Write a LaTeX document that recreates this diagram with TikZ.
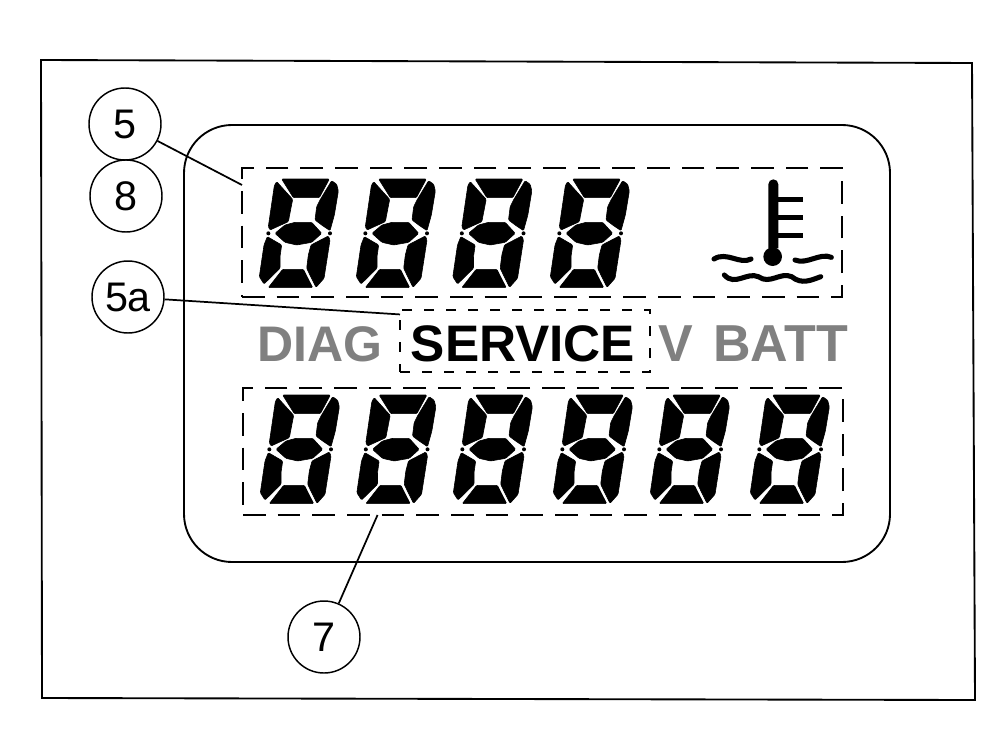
\documentclass[tikz,border=0pt]{standalone}
\usepackage{fontspec}
\setmainfont{Liberation Sans}
\newcommand\lcddigit[2]{%
\begin{scope}[shift={(#1,#2)},x=0.25pt,y=-0.25pt]
\path[lcdseg] (125,42)--(268,42)--(238,98)--(160,98)--cycle;
\path[lcdseg] (275,47)--(290,58)--(295,78)--(283,150)--(270,197)--(245,180)--(225,165)--(230,125)--(240,105)--cycle;
\path[lcdseg] (110,50)--(158,103)--(145,170)--(90,195)--(85,185)--(103,62)--cycle;
\path[lcdseg] (105,205)--(135,180)--(165,172)--(215,172)--(245,205)--(215,232)--(170,240)--(135,232)--cycle;
\path[lcdseg] (82,215)--(125,240)--(120,275)--(120,310)--(72,357)--(58,335)--(72,240)--cycle;
\path[lcdseg] (265,213)--(270,225)--(252,340)--(228,367)--(200,310)--(205,270)--(213,240)--cycle;
\path[lcdseg] (128,313)--(190,313)--(218,368)--(85,368)--cycle;
\fill (85,205) circle (6);
\fill (270,205) circle (6);
\end{scope}}
\tikzset{
  x=0.75pt,y=-0.75pt,
  lcdseg/.style={fill=black,draw=black,line width=0.45pt,rounded corners=0.8pt},
  frameline/.style={draw=black,line width=1.4pt},
  callout/.style={circle,draw=black,line width=1.1pt,fill=white,minimum size=54pt,inner sep=0pt,font=\fontsize{31}{33}\selectfont},
  dashbox/.style={rectangle,draw=black,line width=1.5pt,inner sep=0pt,outer sep=0pt,dash pattern=on 17pt off 9pt},
  servbox/.style={dashbox,dash pattern=on 7.5pt off 9pt},
  leader/.style={draw=black,line width=1.3pt},
  lcdtext/.style={font=\bfseries\fontsize{38.5}{40}\selectfont,inner sep=0pt},
  mutedtext/.style={font=\bfseries\fontsize{37.5}{40}\selectfont,inner sep=0pt,text=black!50},
  vbattext/.style={mutedtext,font=\bfseries\fontsize{39}{40}\selectfont},
  thermo/.style={fill=black},
  wave/.style={draw=black,line width=3.8pt,line cap=round}
}
\begin{document}
\begin{tikzpicture}
\useasboundingbox (0,0) rectangle (1002,753);
\draw[frameline] (41,60) -- (972,63) -- (975,700) -- (42,698) -- cycle;
\draw[frameline,rounded corners=36pt] (184,125) rectangle (890,562);

\node[dashbox,minimum width=450pt,minimum height=96.75pt] (topbox) at (542,232.5) {};
\node[servbox,minimum width=187.5pt,minimum height=46.5pt] (servicebox) at (525,341) {};
\node[dashbox,minimum width=450pt,minimum height=95.25pt] (botbox) at (543,451.5) {};

\lcddigit{240}{165}\lcddigit{337}{165}\lcddigit{433.5}{165}\lcddigit{531}{165}
\lcddigit{241}{381}\lcddigit{337.5}{381}\lcddigit{434}{381}\lcddigit{534}{381}\lcddigit{631}{381}\lcddigit{731}{381}

\begin{scope}[shift={(690,165)},x=0.25pt,y=-0.25pt]
\fill[thermo] (235,58) arc[start angle=180,end angle=360,radius=15] -- (265,250) -- (235,250) -- cycle;
\fill[thermo] (248,275) circle (28);
\fill[thermo] (262,95) rectangle (338,111);
\fill[thermo] (262,149) rectangle (338,165);
\fill[thermo] (262,204) rectangle (338,220);
\draw[wave] (72,282) .. controls (110,258) and (150,300) .. (183,282);
\draw[wave] (315,285) .. controls (350,300) and (390,262) .. (424,277);
\draw[wave] (103,330) .. controls (135,365) and (170,320) .. (205,335) .. controls (240,360) and (270,320) .. (305,335) .. controls (335,360) and (365,345) .. (392,335);
\end{scope}

\node[mutedtext] (diag) at (320,344) {DIAG};
\node[lcdtext] (service) at (523,344) {SERVICE};
\node[vbattext] (vbatt) at (753,344) {\makebox[142.5pt][s]{V\hfill BATT}};

\node[callout] (c5) at (125,124) {5};
\node[callout] (c8) at (126,196) {8};
\node[callout] (c5a) at (128,297) {5a};
\node[callout] (c7) at (324,637) {7};

\draw[leader] (c5) -- (topbox.171);
\draw[leader] (c5a) -- (servicebox.168);
\draw[leader] (c7) -- (botbox.201);
\end{tikzpicture}
\end{document}
